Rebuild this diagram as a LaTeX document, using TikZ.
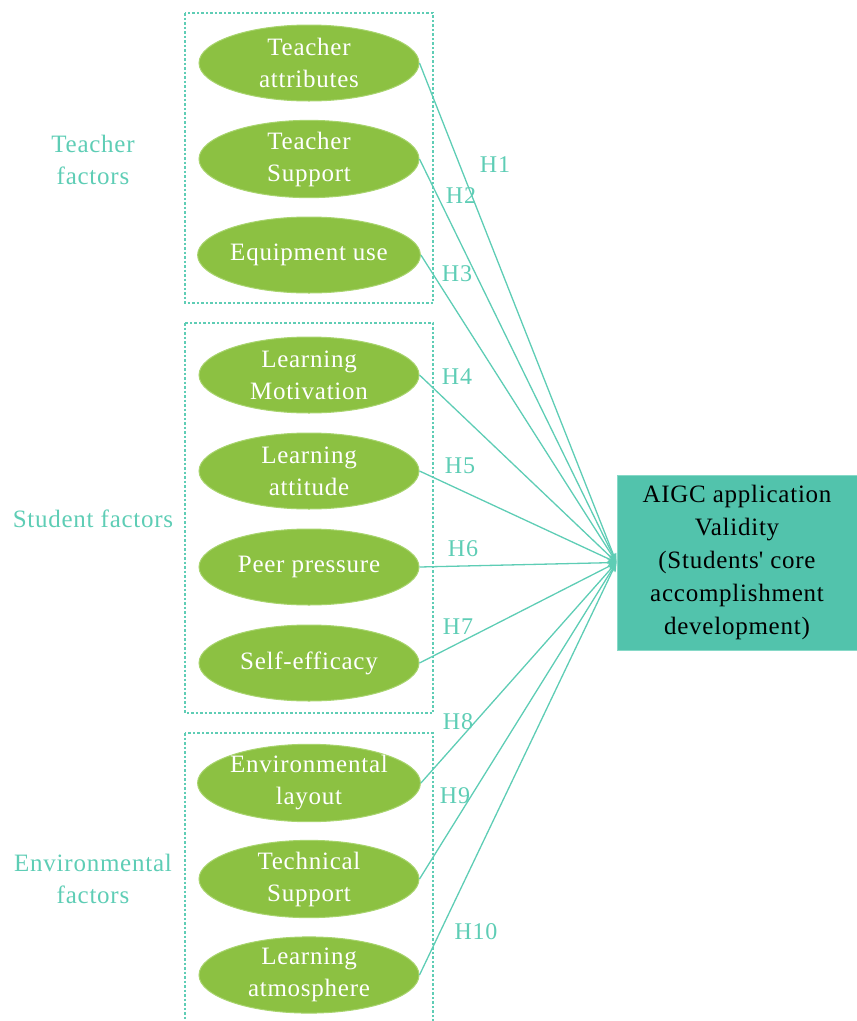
\documentclass[tikz,border=0pt]{standalone}
\usepackage{fontspec}
\setmainfont{Liberation Serif}[LetterSpace=3]
\usetikzlibrary{shapes.geometric,arrows.meta}
\definecolor{leafgreen}{HTML}{8CC142}
\definecolor{leafrim}{HTML}{A8D46E}
\definecolor{tealline}{HTML}{5ECDB5}
\definecolor{tealbox}{HTML}{52C3AC}
\definecolor{tealrim}{HTML}{86D9C7}
\tikzset{
  factor/.style={ellipse,fill=leafgreen,draw=leafrim,line width=1pt,minimum width=220pt,minimum height=76pt,inner sep=0pt,text=white,align=center,font=\fontsize{25}{32}\selectfont},
  group/.style={draw=tealline,line width=1.3pt,dash pattern=on 2.5pt off 2pt},
  grouplabel/.style={text=tealline,align=center,font=\fontsize{25}{32}\selectfont},
  hyp/.style={text=tealline,font=\fontsize{24}{28}\selectfont,inner sep=0pt},
  link/.style={draw=tealline,line width=1.3pt,-{Stealth[length=9pt,width=7pt]}}
}
\begin{document}
\begin{tikzpicture}[x=1pt,y=-1pt]
\useasboundingbox (0,0) rectangle (857,1021);
\draw[group] (185,13) rectangle (433,303);
\draw[group] (185,323) rectangle (433,713);
\draw[group] (185,733) rectangle (433,1030);
\node[grouplabel] (tf) at (93,160) {Teacher\\factors};
\node[grouplabel] (sf) at (93,519) {Student factors};
\node[grouplabel] (ef) at (93,879) {Environmental\\factors};
\node[factor] (f1) at (309,63) {Teacher\\attributes};
\node[factor] (f2) at (309,159) {Teacher\\Support};
\node[factor] (f3) at (309,255) {Equipment use};
\node[factor] (f4) at (309,375) {Learning\\Motivation};
\node[factor] (f5) at (309,471) {Learning\\attitude};
\node[factor] (f6) at (309,567) {Peer pressure};
\node[factor] (f7) at (309,663) {Self-efficacy};
\node[factor] (f8) at (309,783) {Environmental\\layout};
\node[factor] (f9) at (309,879) {Technical\\Support};
\node[factor] (f10) at (309,975) {Learning\\atmosphere};
\node[rectangle,fill=tealbox,draw=tealrim,line width=1pt,minimum width=240pt,minimum height=175pt,align=center,font=\fontsize{25}{33}\selectfont] (aigc) at (737,562.5) {AIGC application\\Validity\\(Students\textquotesingle\ core\\accomplishment\\development)};
\draw[link] (f1.east) -- (aigc.west);
\draw[link] (f2.east) -- (aigc.west);
\draw[link] (f3.east) -- (aigc.west);
\draw[link] (f4.east) -- (aigc.west);
\draw[link] (f5.east) -- (aigc.west);
\draw[link] (f6.east) -- (aigc.west);
\draw[link] (f7.east) -- (aigc.west);
\draw[link] (f8.east) -- (aigc.west);
\draw[link] (f9.east) -- (aigc.west);
\draw[link] (f10.east) -- (aigc.west);
\node[hyp] (h1) at (495,165) {H1};
\node[hyp] (h2) at (461,196) {H2};
\node[hyp] (h3) at (457,274) {H3};
\node[hyp] (h4) at (457,377) {H4};
\node[hyp] (h5) at (460,466) {H5};
\node[hyp] (h6) at (463,549) {H6};
\node[hyp] (h7) at (458,627) {H7};
\node[hyp] (h8) at (458,722) {H8};
\node[hyp] (h9) at (455,796) {H9};
\node[hyp] (h10) at (476,932) {H10};
\end{tikzpicture}
\end{document}
